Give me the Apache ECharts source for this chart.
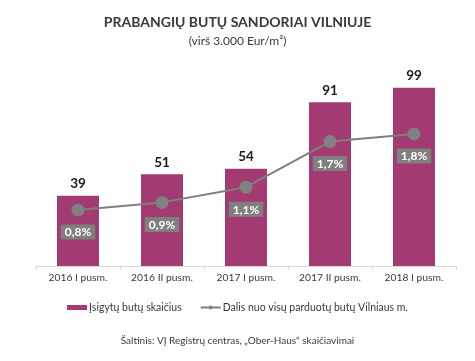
<!DOCTYPE html>
<html><head><meta charset="utf-8">
<script src="https://cdn.jsdelivr.net/npm/echarts@6/dist/echarts.min.js"></script>
<style>html,body{margin:0;padding:0;background:#fff}#c{width:475px;height:361px}</style>
</head><body><div id="c"></div>
<script>
const categories = ['2016 I pusm.', '2016 II pusm.', '2017 I pusm.', '2017 II pusm.', '2018 I pusm.'];
const deals = [39, 51, 54, 91, 99];
const shares = [0.8, 0.9, 1.1, 1.7, 1.8];
const barName = 'Įsigytų butų skaičius';
const lineName = 'Dalis nuo visų parduotų butų Vilniaus m.';
const FONT = 'Lato, "Open Sans", sans-serif';

const chart = echarts.init(document.getElementById('c'));
chart.setOption({
  animation: false,
  textStyle: { fontFamily: FONT },
  title: [
    { text: 'PRABANGIŲ BUTŲ SANDORIAI VILNIUJE', left: 'center', top: 10,
      textStyle: { fontSize: 14, fontWeight: 'bold', color: '#3a3a3a', fontFamily: FONT } },
    { text: '(virš 3.000 Eur/m²)', left: 'center', top: 30,
      textStyle: { fontSize: 12, fontWeight: 'normal', color: '#3a3a3a', fontFamily: FONT } },
    { text: 'Šaltinis: VĮ Registrų centras, „Ober-Haus“ skaičiavimai', left: 'center', top: 331,
      textStyle: { fontSize: 10, fontWeight: 'normal', color: '#3a3a3a', fontFamily: FONT } }
  ],
  legend: {
    top: 297, left: 'center', itemGap: 18, itemWidth: 20, itemHeight: 5,
    textStyle: { fontSize: 10.5, color: '#3a3a3a', fontFamily: FONT, padding: [0, 0, 0, -3] },
    data: [
      { name: barName, icon: 'rect' },
      { name: lineName }
    ]
  },
  grid: { left: 36, right: 19, top: 50, bottom: 95 },
  xAxis: {
    type: 'category', data: categories,
    axisLine: { lineStyle: { color: '#d9d9d9' } },
    axisTick: { show: true, length: 4, lineStyle: { color: '#d9d9d9' } },
    axisLabel: { interval: 0, fontSize: 10.3, color: '#3a3a3a', margin: 7, fontFamily: FONT }
  },
  yAxis: [
    { type: 'value', min: 0, max: 120, show: false, splitLine: { show: false } },
    { type: 'value', min: 0.063, max: 2.905, show: false, splitLine: { show: false } }
  ],
  series: [
    { name: barName, type: 'bar', data: deals, barWidth: '50%',
      itemStyle: { color: '#a33a72' },
      label: { show: true, position: 'top', distance: 5, fontSize: 13.5, fontWeight: 'bold', color: '#1a1a1a', fontFamily: FONT } },
    { name: lineName, type: 'line', yAxisIndex: 1, data: shares,
      symbol: 'circle', symbolSize: 13,
      lineStyle: { color: '#7f7f7f', width: 2 },
      itemStyle: { color: '#7f8280' },
      label: { show: true, position: 'bottom', distance: 8,
        formatter: p => p.value.toFixed(1).replace('.', ',') + '%',
        backgroundColor: '#7f7f7f', color: '#fff', fontWeight: 'bold', fontSize: 12,
        padding: [2, 4, 1, 4], fontFamily: FONT } }
  ]
});
</script></body></html>
